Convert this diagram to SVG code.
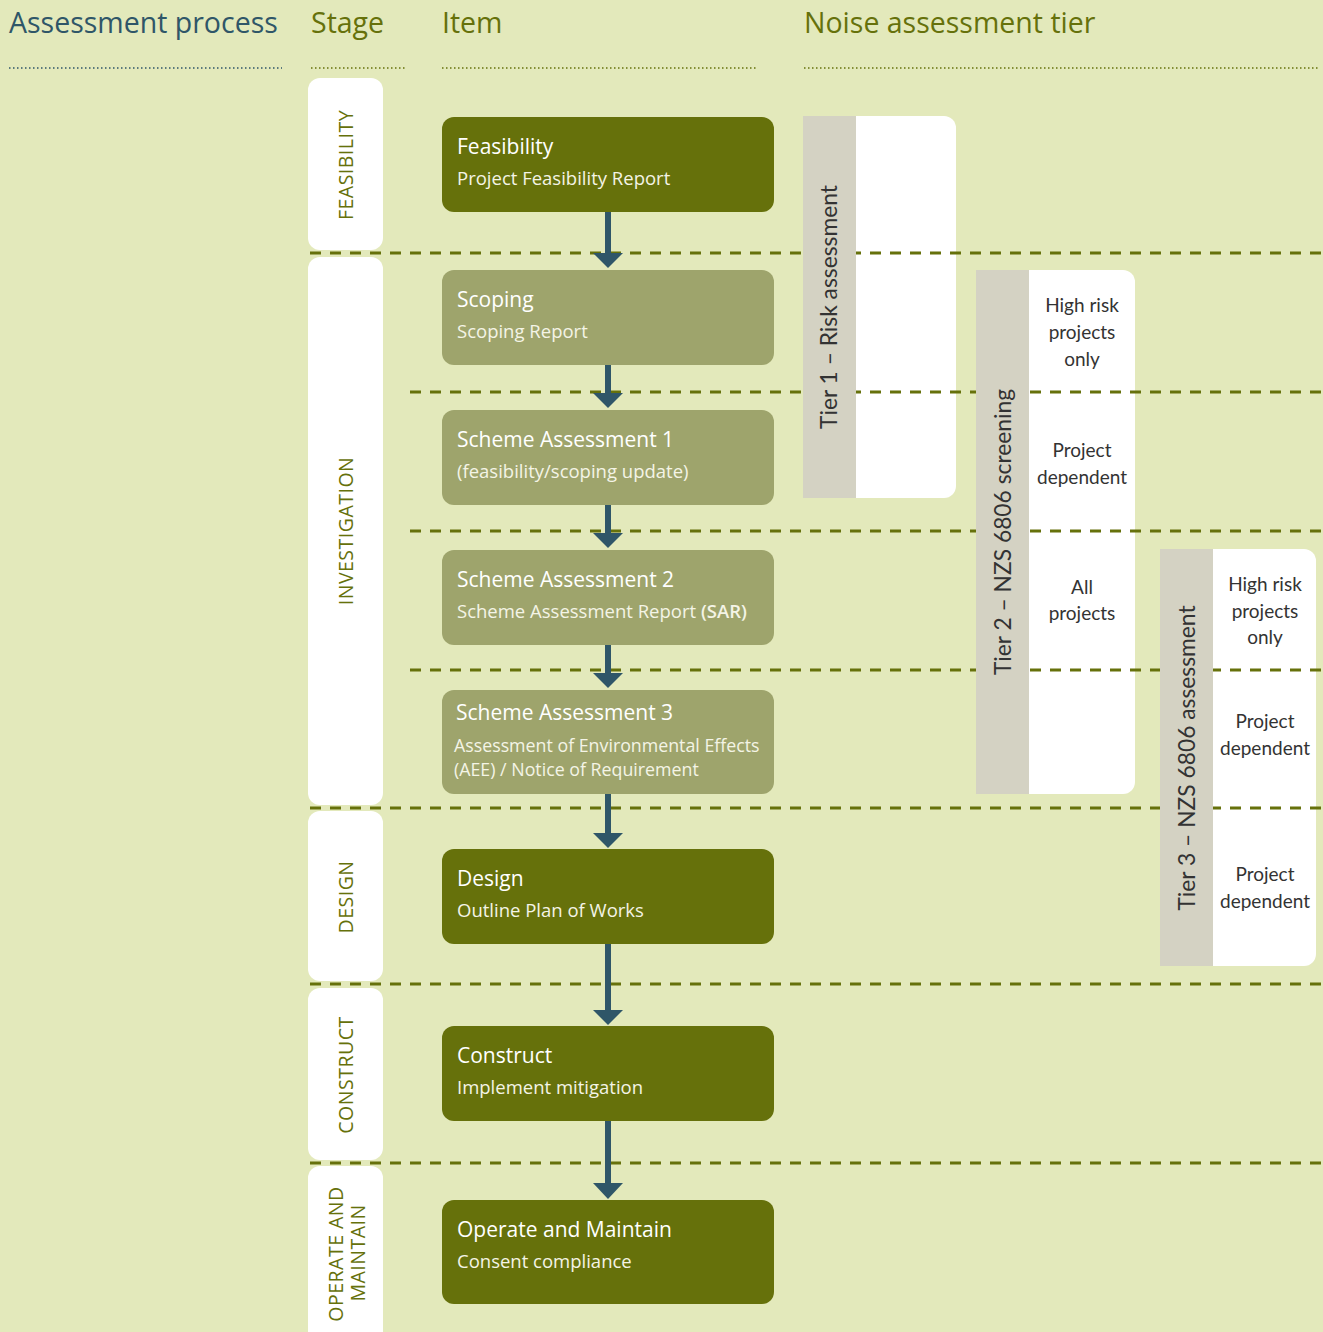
<svg xmlns="http://www.w3.org/2000/svg" width="1323" height="1332" viewBox="0 0 1323 1332">
<defs>
<style>
.hdr{font-family:"Open Sans","Noto Sans",sans-serif;font-size:28.5px}
.dot{stroke-width:1.5;stroke-dasharray:1.5 2.5;fill:none}
.stage{fill:#ffffff}
.stxt{font-family:"Open Sans","Noto Sans",sans-serif;font-size:19.5px;fill:#66710b;letter-spacing:0.5px}
.dark{fill:#66710b}
.light{fill:#9ea46c}
.ttl{font-family:"Open Sans","Noto Sans",sans-serif;font-size:21px;fill:#ffffff}
.sub{font-family:"Open Sans","Noto Sans",sans-serif;font-size:18.5px;fill:#f4f4e6}
.sub2{font-family:"Open Sans","Noto Sans",sans-serif;font-size:17.8px;fill:#f4f4e6}
.dash{stroke:#66710b;stroke-width:3;stroke-dasharray:11 9;fill:none}
.bar{fill:#d4d2c3}
.ttxt{font-family:Lato,"Open Sans",sans-serif;font-size:22.8px;fill:#333333}
.tsub{font-family:Lato,"Open Sans",sans-serif;font-size:19px;fill:#333333;text-anchor:middle}
.arr{stroke:#2f5668;stroke-width:6}
.head{fill:#2f5668}
</style>
</defs>
<rect width="1323" height="1332" fill="#e3e9bb"/>
<g id="headers">
<text class="hdr" x="9" y="33" fill="#2f5668">Assessment process</text>
<text class="hdr" x="311" y="33" fill="#66710b">Stage</text>
<text class="hdr" x="442" y="33" fill="#66710b">Item</text>
<text class="hdr" x="804" y="33" fill="#66710b">Noise assessment tier</text>
<line class="dot" x1="9" y1="68" x2="282" y2="68" stroke="#2f5668"/>
<line class="dot" x1="311" y1="68" x2="405" y2="68" stroke="#66710b"/>
<line class="dot" x1="442" y1="68" x2="757" y2="68" stroke="#66710b"/>
<line class="dot" x1="804" y1="68" x2="1318" y2="68" stroke="#66710b"/>
</g>
<g id="stage-feasibility">
<rect class="stage" x="308" y="78" width="75" height="172" rx="12"/>
<text class="stxt" text-anchor="middle" transform="translate(353,165) rotate(-90)">FEASIBILITY</text>
</g>
<g id="stage-investigation">
<rect class="stage" x="308" y="257" width="75" height="548" rx="12"/>
<text class="stxt" text-anchor="middle" transform="translate(353,531) rotate(-90)">INVESTIGATION</text>
</g>
<g id="stage-design">
<rect class="stage" x="308" y="811" width="75" height="170" rx="12"/>
<text class="stxt" text-anchor="middle" transform="translate(353,897) rotate(-90)">DESIGN</text>
</g>
<g id="stage-construct">
<rect class="stage" x="308" y="988" width="75" height="172" rx="12"/>
<text class="stxt" text-anchor="middle" transform="translate(353,1075) rotate(-90)">CONSTRUCT</text>
</g>
<g id="stage-operate">
<rect class="stage" x="308" y="1166" width="75" height="190" rx="12"/>
<text class="stxt" text-anchor="middle" transform="translate(343,1254) rotate(-90)">OPERATE AND</text>
<text class="stxt" text-anchor="middle" transform="translate(365,1253) rotate(-90)">MAINTAIN</text>
</g>
<g id="tier-boxes">
<path d="M803,116 H944 A12,12 0 0 1 956,128 V486 A12,12 0 0 1 944,498 H803 Z" fill="#ffffff"/>
<path d="M976,270 H1123 A12,12 0 0 1 1135,282 V782 A12,12 0 0 1 1123,794 H976 Z" fill="#ffffff"/>
<path d="M1160,549 H1304 A12,12 0 0 1 1316,561 V954 A12,12 0 0 1 1304,966 H1160 Z" fill="#ffffff"/>
</g>
<g id="dividers">
<line class="dash" x1="310" y1="253" x2="1323" y2="253"/>
<line class="dash" x1="410" y1="392" x2="1323" y2="392"/>
<line class="dash" x1="410" y1="531" x2="1323" y2="531"/>
<line class="dash" x1="410" y1="670" x2="1323" y2="670"/>
<line class="dash" x1="310" y1="808" x2="1323" y2="808"/>
<line class="dash" x1="310" y1="984" x2="1323" y2="984"/>
<line class="dash" x1="310" y1="1163" x2="1323" y2="1163"/>
</g>
<g id="tier1">
<rect class="bar" x="803" y="116" width="53" height="382"/>
<text class="ttxt" text-anchor="middle" transform="translate(837,307) rotate(-90)">Tier 1 – Risk assessment</text>
</g>
<g id="tier2">
<rect class="bar" x="976" y="270" width="53" height="524"/>
<text class="ttxt" text-anchor="middle" transform="translate(1011,532) rotate(-90)">Tier 2 – NZS 6806 screening</text>
<text class="tsub" x="1082" y="312">High risk</text>
<text class="tsub" x="1082" y="339">projects</text>
<text class="tsub" x="1082" y="366">only</text>
<text class="tsub" x="1082" y="457">Project</text>
<text class="tsub" x="1082" y="484">dependent</text>
<text class="tsub" x="1082" y="594">All</text>
<text class="tsub" x="1082" y="620">projects</text>
</g>
<g id="tier3">
<rect class="bar" x="1160" y="549" width="53" height="417"/>
<text class="ttxt" text-anchor="middle" transform="translate(1195,758) rotate(-90)">Tier 3 – NZS 6806 assessment</text>
<text class="tsub" x="1265" y="591">High risk</text>
<text class="tsub" x="1265" y="618">projects</text>
<text class="tsub" x="1265" y="644">only</text>
<text class="tsub" x="1265" y="728">Project</text>
<text class="tsub" x="1265" y="755">dependent</text>
<text class="tsub" x="1265" y="881">Project</text>
<text class="tsub" x="1265" y="908">dependent</text>
</g>
<g id="connectors">
<line class="arr" x1="608" y1="212" x2="608" y2="256"/>
<polygon class="head" points="593,253 623,253 608,268"/>
<line class="arr" x1="608" y1="365" x2="608" y2="396"/>
<polygon class="head" points="593,393 623,393 608,408"/>
<line class="arr" x1="608" y1="505" x2="608" y2="536"/>
<polygon class="head" points="593,533 623,533 608,548"/>
<line class="arr" x1="608" y1="645" x2="608" y2="676"/>
<polygon class="head" points="593,673 623,673 608,688"/>
<line class="arr" x1="608" y1="794" x2="608" y2="836"/>
<polygon class="head" points="593,833 623,833 608,848"/>
<line class="arr" x1="608" y1="944" x2="608" y2="1013"/>
<polygon class="head" points="593,1010 623,1010 608,1025"/>
<line class="arr" x1="608" y1="1121" x2="608" y2="1186"/>
<polygon class="head" points="593,1183 623,1183 608,1199"/>
</g>
<g id="item-feasibility">
<rect class="dark" x="442" y="117" width="332" height="95" rx="12"/>
<text class="ttl" x="457" y="154">Feasibility</text>
<text class="sub" x="457" y="185">Project Feasibility Report</text>
</g>
<g id="item-scoping">
<rect class="light" x="442" y="270" width="332" height="95" rx="12"/>
<text class="ttl" x="457" y="307">Scoping</text>
<text class="sub" x="457" y="338">Scoping Report</text>
</g>
<g id="item-sa1">
<rect class="light" x="442" y="410" width="332" height="95" rx="12"/>
<text class="ttl" x="457" y="447">Scheme Assessment 1</text>
<text class="sub" x="457" y="478">(feasibility/scoping update)</text>
</g>
<g id="item-sa2">
<rect class="light" x="442" y="550" width="332" height="95" rx="12"/>
<text class="ttl" x="457" y="587">Scheme Assessment 2</text>
<text class="sub" x="457" y="618">Scheme Assessment Report <tspan font-weight="600">(SAR)</tspan></text>
</g>
<g id="item-sa3">
<rect class="light" x="442" y="690" width="332" height="104" rx="12"/>
<text class="ttl" x="456" y="720">Scheme Assessment 3</text>
<text class="sub2" x="454" y="752">Assessment of Environmental Effects</text>
<text class="sub2" x="454" y="776">(AEE) / Notice of Requirement</text>
</g>
<g id="item-design">
<rect class="dark" x="442" y="849" width="332" height="95" rx="12"/>
<text class="ttl" x="457" y="886">Design</text>
<text class="sub" x="457" y="917">Outline Plan of Works</text>
</g>
<g id="item-construct">
<rect class="dark" x="442" y="1026" width="332" height="95" rx="12"/>
<text class="ttl" x="457" y="1063">Construct</text>
<text class="sub" x="457" y="1094">Implement mitigation</text>
</g>
<g id="item-operate">
<rect class="dark" x="442" y="1200" width="332" height="104" rx="12"/>
<text class="ttl" x="457" y="1237">Operate and Maintain</text>
<text class="sub" x="457" y="1268">Consent compliance</text>
</g>
</svg>
